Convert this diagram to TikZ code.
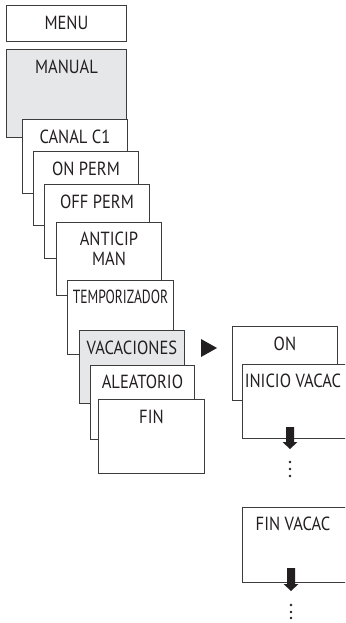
\documentclass[tikz,border=0pt]{standalone}
\usepackage{fontspec}
\usepackage{graphicx}
\setmainfont{PT Sans}[FakeStretch=0.87]
\definecolor{frame}{HTML}{3C3C3C}
\definecolor{selfill}{HTML}{E6E7E8}
\definecolor{ink}{HTML}{231F20}
\begin{document}
\begin{tikzpicture}[x=1pt,y=-1pt,
  menubox/.style={draw=frame, line width=0.9pt, fill=white, rectangle, inner sep=0pt, anchor=north west},
  selbox/.style={menubox, fill=selfill},
  lbl/.style={anchor=base, inner sep=0pt, text=ink, font=\fontsize{19}{22}\selectfont},
  downarrow/.style={fill=ink, draw=none},
  dot/.style={fill=ink, draw=none}
]
\clip (0,0) rectangle (345,623);
\fill[white] (0,0) rectangle (345,623);

% main menu column
\node[menubox, minimum width=120, minimum height=36] (menu) at (6,5) {};
\node[lbl] (menuT) at ([yshift=-25]menu.north) {MENU};

\node[selbox, minimum width=120, minimum height=88] (manual) at (6,49) {};
\node[lbl] (manualT) at ([yshift=-25]manual.north) {MANUAL};

% cascade of submenu entries
\node[menubox, minimum width=105, minimum height=74] (canal) at (22,119) {};
\node[lbl] (canalT) at ([yshift=-24]canal.north) {CANAL C1};

\node[menubox, minimum width=105, minimum height=74] (onperm) at (33,151) {};
\node[lbl] (onpermT) at ([yshift=-24]onperm.north) {ON PERM};

\node[menubox, minimum width=105, minimum height=74] (offperm) at (44,184) {};
\node[lbl] (offpermT) at ([yshift=-24]offperm.north) {OFF PERM};

\node[menubox, minimum width=105, minimum height=73] (anticip) at (56,222) {};
\node[lbl] (anticipT) at ([yshift=-23]anticip.north) {ANTICIP};
\node[lbl] (anticipT2) at ([yshift=-43]anticip.north) {MAN};

\node[menubox, minimum width=106, minimum height=74] (tempo) at (67,280) {};
\node[lbl] (tempoT) at ([yshift=-23]tempo.north) {\scalebox{0.82}[1]{TEMPORIZADOR}};

\node[selbox, minimum width=105, minimum height=73] (vacac) at (79,330) {};
\node[lbl] (vacacT) at ([yshift=-24]vacac.north) {VACACIONES};

\node[menubox, minimum width=104, minimum height=74] (aleat) at (90,365) {};
\node[lbl] (aleatT) at ([yshift=-23]aleat.north) {ALEATORIO};

\node[menubox, minimum width=106, minimum height=74] (fin) at (98,399) {};
\node[lbl] (finT) at ([yshift=-24]fin.north) {FIN};

% branch marker
\fill[ink] (201,339) -- (217,348) -- (201,357) -- cycle;

% holiday submenu
\node[menubox, minimum width=105, minimum height=74] (on) at (232,326) {};
\node[lbl] (onT) at ([yshift=-24]on.north) {ON};

\node[menubox, minimum width=105, minimum height=74] (inicio) at (242,364) {};
\node[lbl] (inicioT) at ([xshift=-2,yshift=-23]inicio.north) {INICIO VACAC};

\node[menubox, minimum width=105, minimum height=75] (finvac) at (242,507) {};
\node[lbl] (finvacT) at ([xshift=-2,yshift=-23]finvac.north) {FIN VACAC};

% continuation arrows and ellipses
\coordinate (a1) at (290,427);
\fill[downarrow] ([xshift=-4]a1) -- ++(0,15) -- ++(-3.5,0) -- (290,449) -- (297.5,442) -- ++(-3.5,0) -- ++(0,-15) -- cycle;
\foreach \yy in {462,469,476} \fill[dot] (290,\yy) circle (1.3);

\coordinate (a2) at (291,568);
\fill[downarrow] ([xshift=-4]a2) -- ++(0,16) -- ++(-3.5,0) -- (291,591) -- (298.5,584) -- ++(-3.5,0) -- ++(0,-16) -- cycle;
\foreach \yy in {605,612,618} \fill[dot] (291,\yy) circle (1.3);
\end{tikzpicture}
\end{document}
